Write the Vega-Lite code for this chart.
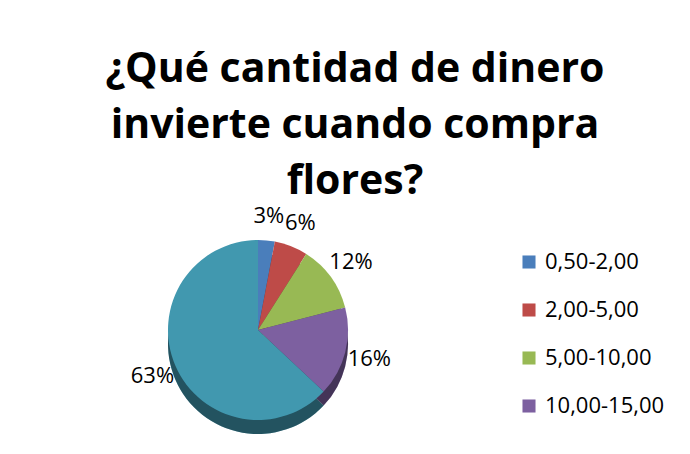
{
  "$schema": "https://vega.github.io/schema/vega-lite/v6.json",
  "autosize": "none",
  "width": 180,
  "height": 180,
  "padding": {"left": 168, "top": 240, "right": 342, "bottom": 34},
  "background": "white",
  "config": {"view": {"stroke": null}, "font": "Open Sans"},
  "title": {
    "text": ["¿Qué cantidad de dinero", "invierte cuando compra", "flores?"],
    "font": "Open Sans",
    "fontSize": 41,
    "fontWeight": "bold",
    "color": "#000000",
    "lineHeight": 56,
    "anchor": "middle",
    "dx": 97,
    "offset": 2
  },
  "data": {
    "values": [
      {"rango": "0,50-2,00", "orden": 1, "pct": 0.03},
      {"rango": "2,00-5,00", "orden": 2, "pct": 0.06},
      {"rango": "5,00-10,00", "orden": 3, "pct": 0.12},
      {"rango": "10,00-15,00", "orden": 4, "pct": 0.16},
      {"rango": "más de 15,00", "orden": 5, "pct": 0.63}
    ]
  },
  "encoding": {
    "theta": {"field": "pct", "type": "quantitative", "stack": true},
    "order": {"field": "orden", "type": "quantitative"}
  },
  "layer": [
    {
      "mark": {"type": "arc", "radius": 90, "yOffset": 14},
      "encoding": {
        "color": {
          "field": "rango",
          "type": "nominal",
          "scale": {
            "domain": ["0,50-2,00", "2,00-5,00", "5,00-10,00", "10,00-15,00", "más de 15,00"],
            "range": ["#4A7EBB", "#BE4B48", "#98B954", "#7D60A0", "#4198AF"]
          },
          "legend": {
            "orient": "none",
            "legendX": 350,
            "legendY": 11,
            "title": null,
            "values": ["0,50-2,00", "2,00-5,00", "5,00-10,00", "10,00-15,00"],
            "symbolType": "square",
            "symbolSize": 170,
            "symbolStrokeWidth": 0,
            "symbolOpacity": 1,
            "labelFont": "Open Sans",
            "labelFontSize": 22,
            "labelColor": "#000000",
            "labelLimit": 300,
            "rowPadding": 26,
            "padding": 0,
            "labelOffset": 5
          }
        }
      }
    },
    {
      "mark": {"type": "arc", "radius": 90, "yOffset": 14, "fill": "#000000", "fillOpacity": 0.45}
    },
    {
      "mark": {"type": "arc", "radius": 90},
      "encoding": {
        "color": {"field": "rango", "type": "nominal"}
      }
    },
    {
      "mark": {"type": "text", "radius": 115, "font": "Open Sans", "fontSize": 22, "color": "#000000"},
      "encoding": {
        "text": {"field": "pct", "type": "quantitative", "format": ".0%"}
      }
    }
  ]
}
